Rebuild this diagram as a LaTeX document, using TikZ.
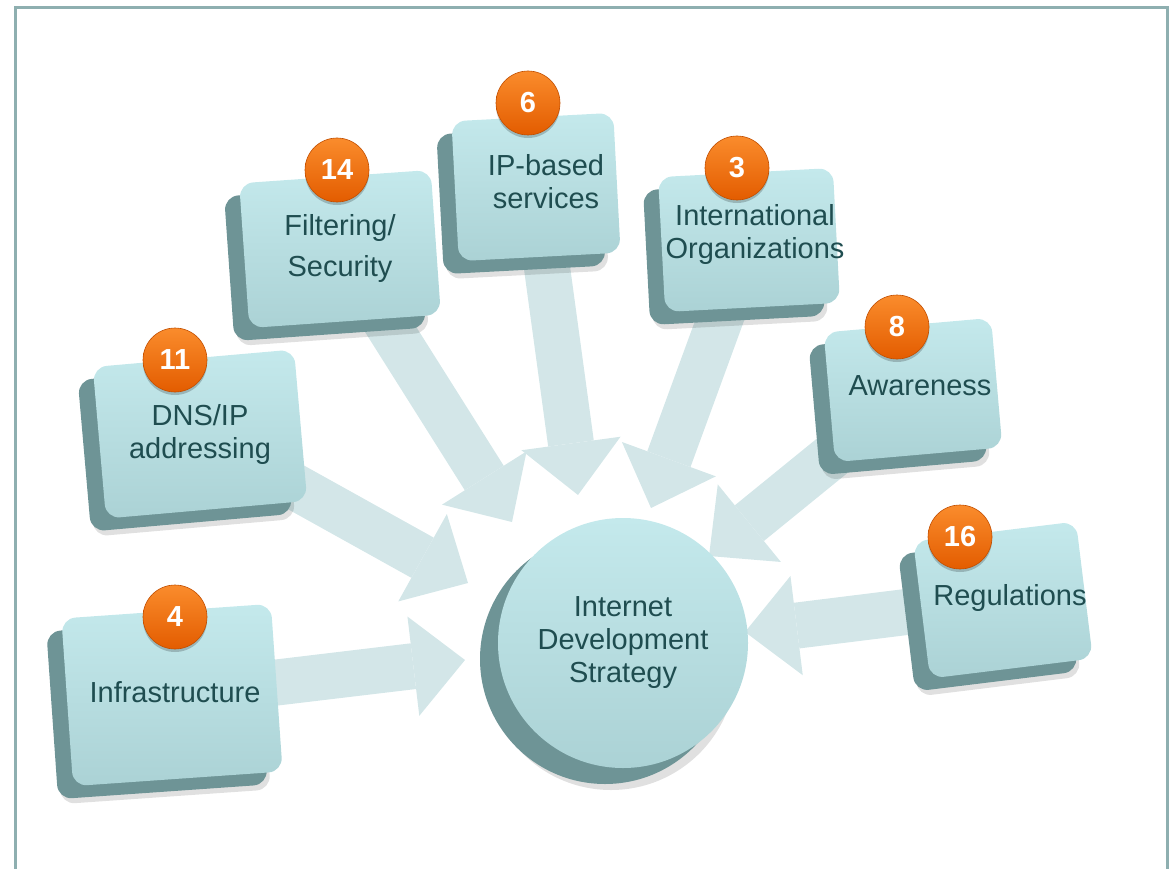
\documentclass[tikz,border=0pt]{standalone}
\usepackage{fontspec}
\setmainfont{Liberation Sans}
\usetikzlibrary{arrows.meta,shadows,backgrounds}

\definecolor{facetop}{HTML}{C4E9EC}
\definecolor{facebot}{HTML}{ABD2D5}
\definecolor{boxside}{HTML}{6E9496}
\definecolor{boxtext}{HTML}{1F4D50}
\definecolor{flowcol}{HTML}{D3E6E8}
\definecolor{badgetop}{HTML}{FA8C2C}
\definecolor{badgebot}{HTML}{E35C00}
\definecolor{framecol}{HTML}{8EAFB0}

\begin{document}
\begin{tikzpicture}[x=1pt, y=-1pt,
    topic node/.style={rectangle, rounded corners=14pt, inner sep=0pt,
        top color=facetop, bottom color=facebot,
        general shadow={fill=black, opacity=0.12, shadow xshift=-12pt, shadow yshift=-18pt},
        general shadow={fill=boxside, shadow xshift=-15pt, shadow yshift=-13pt}},
    topic text/.style={align=center, text=boxtext, font=\fontsize{29}{33}\selectfont},
    hub node/.style={circle, minimum size=250pt, inner sep=0pt, align=center,
        top color=facetop, bottom color=facebot, text=boxtext,
        font=\fontsize{29}{33}\selectfont,
        general shadow={fill=black, opacity=0.12, shadow xshift=-12pt, shadow yshift=-22pt},
        general shadow={fill=boxside, shadow xshift=-18pt, shadow yshift=-16pt}},
    badge/.style={circle, minimum size=64pt, inner sep=0pt, text=white,
        top color=badgetop, bottom color=badgebot, draw=badgebot!85!black, line width=0.6pt,
        font=\bfseries\fontsize{29}{33}\selectfont,
        general shadow={fill=black, opacity=0.2, shadow yshift=-3pt}},
    flow/.style={color=flowcol, line width=46pt, shorten <=-30pt,
        -{Triangle[length=52pt 0 0, width=100pt 0 0, line width=0pt 0 0, fill=flowcol, color=flowcol]}}]

  \useasboundingbox (0,0) rectangle (1169,869);
  \draw[framecol, line width=3pt] (15,869) -- (15,8) -- (1167,8) -- (1167,869);

  \node[hub node] (0) at (623,643) {Internet\\Development\\Strategy};

  \node[topic node, minimum width=210pt, minimum height=168pt, rotate=4] (4) at (172,695) {};
  \node[topic node, minimum width=202pt, minimum height=152pt, rotate=5] (11) at (200,434) {};
  \node[topic node, minimum width=192pt, minimum height=145pt, rotate=4] (14) at (340,249) {};
  \node[topic node, minimum width=162pt, minimum height=140pt, rotate=3] (6) at (536,187) {};
  \node[topic node, minimum width=175pt, minimum height=135pt, rotate=3] (3) at (749,240) {};
  \node[topic node, minimum width=168pt, minimum height=130pt, rotate=5] (8) at (913,390) {};
  \node[topic node, minimum width=164pt, minimum height=138pt, rotate=7] (16) at (1003,600) {};

  \node[topic text] (l4) at ([shift={(3,-3)}]4) {Infrastructure};
  \node[topic text] (l11) at (11) {DNS/IP\\addressing};
  \node[topic text] (l14) at (14) {Filtering/\\[8pt]Security};
  \node[topic text] (l6) at ([shift={(10,-5)}]6) {IP-based\\services};
  \node[topic text] (l3) at ([shift={(6,-5)}]3) {International\\Organizations};
  \node[topic text] (l8) at ([shift={(7,-4)}]8) {Awareness};
  \node[topic text] (l16) at ([shift={(7,-2)}]16) {Regulations};

  \node[badge] (b4) at (175,617) {4};
  \node[badge] (b11) at (175,360) {11};
  \node[badge] (b14) at (337,170) {14};
  \node[badge] (b6) at (528,103) {6};
  \node[badge] (b3) at (737,168) {3};
  \node[badge] (b8) at (897,327) {8};
  \node[badge] (b16) at (960,537) {16};

  % arrow tips, just outside the hub
  \coordinate (t4) at (465,660);
  \coordinate (t11) at (468,583);
  \coordinate (t14) at (512,522);
  \coordinate (t6) at (578,495);
  \coordinate (t3) at (651,508);
  \coordinate (t8) at (709,556);
  \coordinate (t16) at (745,632);

  \begin{pgfonlayer}{background}
  \path[flow]
    (4) edge (t4)
    (11) edge (t11)
    (14) edge (t14)
    (6) edge (t6)
    (3) edge (t3)
    (8) edge (t8)
    (16) edge (t16);
  \end{pgfonlayer}

\end{tikzpicture}
\end{document}
